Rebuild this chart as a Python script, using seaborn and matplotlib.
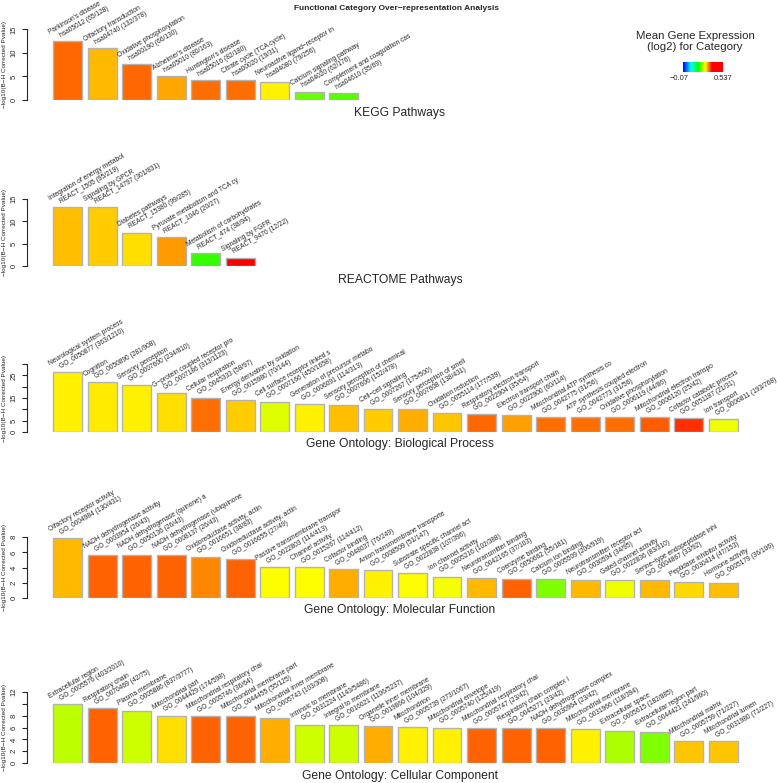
import numpy as np
import pandas as pd
import matplotlib
matplotlib.use('Agg')
import matplotlib.pyplot as plt
import seaborn as sns
from matplotlib.colors import LinearSegmentedColormap, Normalize

# ---- data ----
kegg_names = ["Parkinson's disease", "Olfactory transduction", "Oxidative phosphorylation",
              "Alzheimer's disease", "Huntington's disease", "Citrate cycle (TCA cycle)",
              "Neuroactive ligand\u2212receptor in", "Calcium signaling pathway",
              "Complement and coagulation cas"]
kegg_ids = ["hsa05012 (65/128)", "hsa04740 (132/378)", "hsa00190 (66/130)", "hsa05010 (80/163)",
            "hsa05016 (82/180)", "hsa00020 (19/31)", "hsa04080 (79/256)", "hsa04020 (62/176)",
            "hsa04610 (35/69)"]
kegg_pvals = [12.6, 11.1, 7.6, 5.1, 4.25, 4.25, 3.9, 1.8, 1.5]
kegg_expr = [0.328, 0.297, 0.327, 0.304, 0.325, 0.325, 0.276, 0.206, 0.197]

react_names = ["Integration of energy metabol", "Signaling by GPCR", "Diabetes pathways",
               "Pyruvate metabolism and TCA cy", "Metabolism of carbohydrates", "Signaling by FGFR"]
react_ids = ["REACT_1505 (95/219)", "REACT_14797 (301/831)", "REACT_15380 (99/285)",
             "REACT_1046 (20/27)", "REACT_474 (38/94)", "REACT_9470 (12/22)"]
react_pvals = [13.3, 13.1, 7.5, 6.5, 3.0, 1.9]
react_expr = [0.294, 0.289, 0.283, 0.309, 0.183, 0.42]

bp_names = ["Neurological system process", "Cognition", "Sensory perception",
            "G\u2212protein coupled receptor pro", "Cellular respiration",
            "Energy derivation by oxidation", "Cell surface receptor linked s",
            "Generation of precursor metabo", "Sensory perception of chemical",
            "Cell\u2212cell signaling", "Sensory perception of smell", "Oxidation reduction",
            "Respiratory electron transport", "Electron transport chain",
            "Mitochondrial ATP synthesis co", "ATP synthesis coupled electron",
            "Oxidative phosphorylation", "Mitochondrial electron transpo",
            "Cofactor catabolic process", "Ion transport"]
bp_ids = ["GO_0050877 (363/1210)", "GO_0050890 (281/908)", "GO_0007600 (234/810)",
          "GO_0007186 (313/1123)", "GO_0045333 (58/97)", "GO_0015980 (70/144)",
          "GO_0007166 (450/1658)", "GO_0006091 (114/313)", "GO_0007606 (152/478)",
          "GO_0007267 (175/500)", "GO_0007608 (138/431)", "GO_0055114 (177/539)",
          "GO_0022904 (35/64)", "GO_0022900 (60/114)", "GO_0042775 (31/56)",
          "GO_0042773 (31/56)", "GO_0006119 (44/86)", "GO_0006120 (25/42)",
          "GO_0051187 (21/31)", "GO_0006811 (193/768)"]
bp_pvals = [26.6, 21.9, 20.6, 17.1, 15.0, 14.1, 13.1, 12.5, 11.8, 10.1,
            10.0, 8.2, 7.8, 7.6, 6.8, 6.8, 6.6, 6.5, 6.0, 5.6]
bp_expr = [0.276, 0.278, 0.276, 0.283, 0.325, 0.289, 0.255, 0.276, 0.294, 0.289,
           0.302, 0.291, 0.328, 0.306, 0.325, 0.325, 0.325, 0.333, 0.348, 0.264]

mf_names = ["Olfactory receptor activity", "NADH dehydrogenase activity",
            "NADH dehydrogenase (quinone) a", "NADH dehydrogenase (ubiquinone",
            "Oxidoreductase activity, actin", "Oxidoreductase activity, actin",
            "Passive transmembrane transpor", "Channel activity", "Cofactor binding",
            "Anion transmembrane transporte", "Substrate specific channel act",
            "Ion channel activity", "Neurotransmitter binding", "Coenzyme binding",
            "Calcium ion binding", "Neurotransmitter receptor act", "Gated channel activity",
            "Serine\u2212type endopeptidase inhi", "Peptidase inhibitor activity",
            "Hormone activity"]
mf_ids = ["GO_0004984 (130/431)", "GO_0003954 (26/43)", "GO_0050136 (26/43)",
          "GO_0008137 (26/43)", "GO_0016651 (38/83)", "GO_0016655 (27/49)",
          "GO_0022803 (114/413)", "GO_0015267 (114/412)", "GO_0048037 (76/249)",
          "GO_0008509 (51/147)", "GO_0022838 (107/396)", "GO_0005216 (102/388)",
          "GO_0042165 (37/103)", "GO_0050662 (55/181)", "GO_0005509 (206/919)",
          "GO_0030594 (34/95)", "GO_0022836 (83/310)", "GO_0004867 (33/92)",
          "GO_0030414 (47/153)", "GO_0005179 (36/106)"]
mf_pvals = [7.9, 5.66, 5.66, 5.66, 5.35, 5.13, 4.1, 4.1, 3.8, 3.67,
            3.27, 2.8, 2.65, 2.43, 2.43, 2.3, 2.3, 2.3, 2.04, 2.0]
mf_expr = [0.296, 0.330, 0.330, 0.330, 0.315, 0.330, 0.270, 0.270, 0.301, 0.276,
           0.270, 0.266, 0.296, 0.330, 0.215, 0.296, 0.263, 0.296, 0.284, 0.294]

cc_names = ["Extracellular region", "Respiratory chain", "Plasma membrane",
            "Mitochondrial part", "Mitochondrial respiratory chai",
            "Mitochondrial membrane part", "Mitochondrial inner membrane",
            "Intrinsic to membrane", "Integral to membrane", "Organelle inner membrane",
            "Mitochondrion", "Mitochondrial envelope", "Mitochondrial respiratory chai",
            "Respiratory chain complex I", "NADH dehydrogenase complex",
            "Mitochondrial membrane", "Extracellular space", "Extracellular region part",
            "Mitochondrial matrix", "Mitochondrial lumen"]
cc_ids = ["GO_0005576 (403/2010)", "GO_0070469 (42/75)", "GO_0005886 (837/3777)",
          "GO_0044429 (174/598)", "GO_0005746 (36/64)", "GO_0044455 (55/125)",
          "GO_0005743 (103/308)", "GO_0031224 (1143/5486)", "GO_0016021 (1106/5237)",
          "GO_0019866 (104/329)", "GO_0005739 (273/1067)", "GO_0005740 (125/419)",
          "GO_0005747 (23/42)", "GO_0045271 (23/42)", "GO_0030964 (23/42)",
          "GO_0031966 (118/394)", "GO_0005615 (182/885)", "GO_0044421 (241/960)",
          "GO_0005759 (71/227)", "GO_0031980 (71/227)"]
cc_pvals = [9.9, 9.2, 8.7, 8.0, 7.9, 7.9, 7.65, 6.5, 6.4, 6.2,
            6.1, 6.0, 5.9, 5.9, 5.9, 5.8, 5.4, 5.3, 3.75, 3.75]
cc_expr = [0.241, 0.330, 0.248, 0.283, 0.330, 0.330, 0.301, 0.248, 0.248, 0.302,
           0.276, 0.276, 0.330, 0.330, 0.330, 0.276, 0.235, 0.215, 0.291, 0.291]

kegg_ticks, kegg_ticklabels = [0, 5, 10, 15], ["0", "5", "10", "15"]
react_ticks, react_ticklabels = [0, 5, 10, 15], ["0", "5", "10", "15"]
bp_ticks, bp_ticklabels = [0, 5, 10, 15, 20, 25, 30], ["0", "5", "", "15", "", "25", ""]
mf_ticks, mf_ticklabels = [0, 2, 4, 6, 8], ["0", "2", "4", "6", "8"]
cc_ticks, cc_ticklabels = [0, 2, 4, 6, 8, 10, 12], ["0", "2", "4", "6", "8", "", "12"]

EXPR_MIN, EXPR_MAX = -0.07, 0.537

panels = [
    ("KEGG Pathways", kegg_names, kegg_ids, kegg_pvals, kegg_expr, kegg_ticks, kegg_ticklabels),
    ("REACTOME Pathways", react_names, react_ids, react_pvals, react_expr, react_ticks, react_ticklabels),
    ("Gene Ontology: Biological Process", bp_names, bp_ids, bp_pvals, bp_expr, bp_ticks, bp_ticklabels),
    ("Gene Ontology: Molecular Function", mf_names, mf_ids, mf_pvals, mf_expr, mf_ticks, mf_ticklabels),
    ("Gene Ontology: Cellular Component", cc_names, cc_ids, cc_pvals, cc_expr, cc_ticks, cc_ticklabels),
]

# pixel layout: (y of zero, y of top tick, y of panel caption)
layout = [(100, 29.3, 113), (266, 199, 280), (432, 364, 444), (597.7, 537.3, 610), (763.3, 691.7, 776)]

sns.set_style("ticks")
plt.rcParams['font.family'] = ['Liberation Sans', 'DejaVu Sans']

cmap = LinearSegmentedColormap.from_list(
    "expr", [(0, "#0000ff"), (0.2, "#00ffff"), (0.38, "#00ff00"),
             (0.56, "#ffff00"), (0.72, "#ff0000"), (1, "#ff0000")])
norm = Normalize(EXPR_MIN, EXPR_MAX)

W, H = 777, 783
fig = plt.figure(figsize=(W / 100, H / 100), dpi=100)

AX_LEFT, AX_RIGHT = 27, 770
PITCH = 34.5
FIRST_CENTER = 67.5
BAR_W = 29 / PITCH
xlim = ((AX_LEFT - FIRST_CENTER) / PITCH, (AX_RIGHT - FIRST_CENTER) / PITCH)
LABEL_FS = 4.8

for (caption, names, ids, vals, expr, ticks, ticklabels), (y0, ytop, ylab) in zip(panels, layout):
    ax = fig.add_axes([AX_LEFT / W, 1 - y0 / H, (AX_RIGHT - AX_LEFT) / W, (y0 - ytop) / H])
    keys = [f"{i:02d}" for i in range(len(names))]
    df = pd.DataFrame({"key": keys, "value": vals})
    colors = {k: cmap(norm(e)) for k, e in zip(keys, expr)}
    sns.barplot(data=df, x="key", y="value", hue="key", palette=colors, legend=False,
                width=BAR_W, saturation=1, edgecolor="#b3b3b3", linewidth=1.0, ax=ax)
    ax.set_xlim(*xlim)
    ax.set_ylim(0, ticks[-1])
    ax.set_yticks(ticks)
    ax.set_yticklabels(ticklabels, rotation=90, va="center")
    ax.set_xticks([])
    ax.set_xlabel("")
    ax.set_ylabel("\u2212log10(B\u2212H Corrected Pvalue)", fontsize=4.6)
    ax.yaxis.set_label_coords((7 - AX_LEFT) / (AX_RIGHT - AX_LEFT), 0.5)
    for s in ["top", "right", "bottom"]:
        ax.spines[s].set_visible(False)
    ax.spines["left"].set_linewidth(0.8)
    ax.tick_params(axis="y", length=3.6, width=0.8, pad=3.0, labelsize=5.5)
    ax.patch.set_visible(False)

    for i, (nm, gid, v) in enumerate(zip(names, ids, vals)):
        xl = i - BAR_W / 2
        ax.annotate(nm, (xl, v), xytext=(-1.1, 3.4), textcoords="offset points",
                    rotation=30, rotation_mode="anchor", ha="left", va="bottom",
                    fontsize=LABEL_FS, annotation_clip=False)
        ax.annotate(gid, (xl, v), xytext=(6.8, 1.5), textcoords="offset points",
                    rotation=30, rotation_mode="anchor", ha="left", va="bottom",
                    fontsize=LABEL_FS, annotation_clip=False)

    fig.text(400 / W, 1 - ylab / H, caption, ha="center", va="center", fontsize=8.7)

# title
fig.text(396 / W, 1 - 9 / H, "Functional Category Over\u2212representation Analysis",
         ha="center", va="center", fontsize=6, fontweight="bold")

# colour key
fig.text(695 / W, 1 - 41.5 / H, "Mean Gene Expression\n(log2) for Category",
         ha="center", va="center", fontsize=8.2, linespacing=1.15)
cax = fig.add_axes([683.3 / W, 1 - 71.7 / H, 40 / W, 10 / H])
cax.imshow(np.linspace(0, 1, 256).reshape(1, -1), aspect="auto", cmap=cmap)
cax.set_axis_off()
fig.text(679.3 / W, 1 - 78.3 / H, f"{EXPR_MIN:g}".replace("-", "\u2212"),
         ha="center", va="center", fontsize=5.4)
fig.text(723.3 / W, 1 - 78.3 / H, f"{EXPR_MAX:g}", ha="center", va="center", fontsize=5.4)

fig.savefig("out.png", dpi=100)
